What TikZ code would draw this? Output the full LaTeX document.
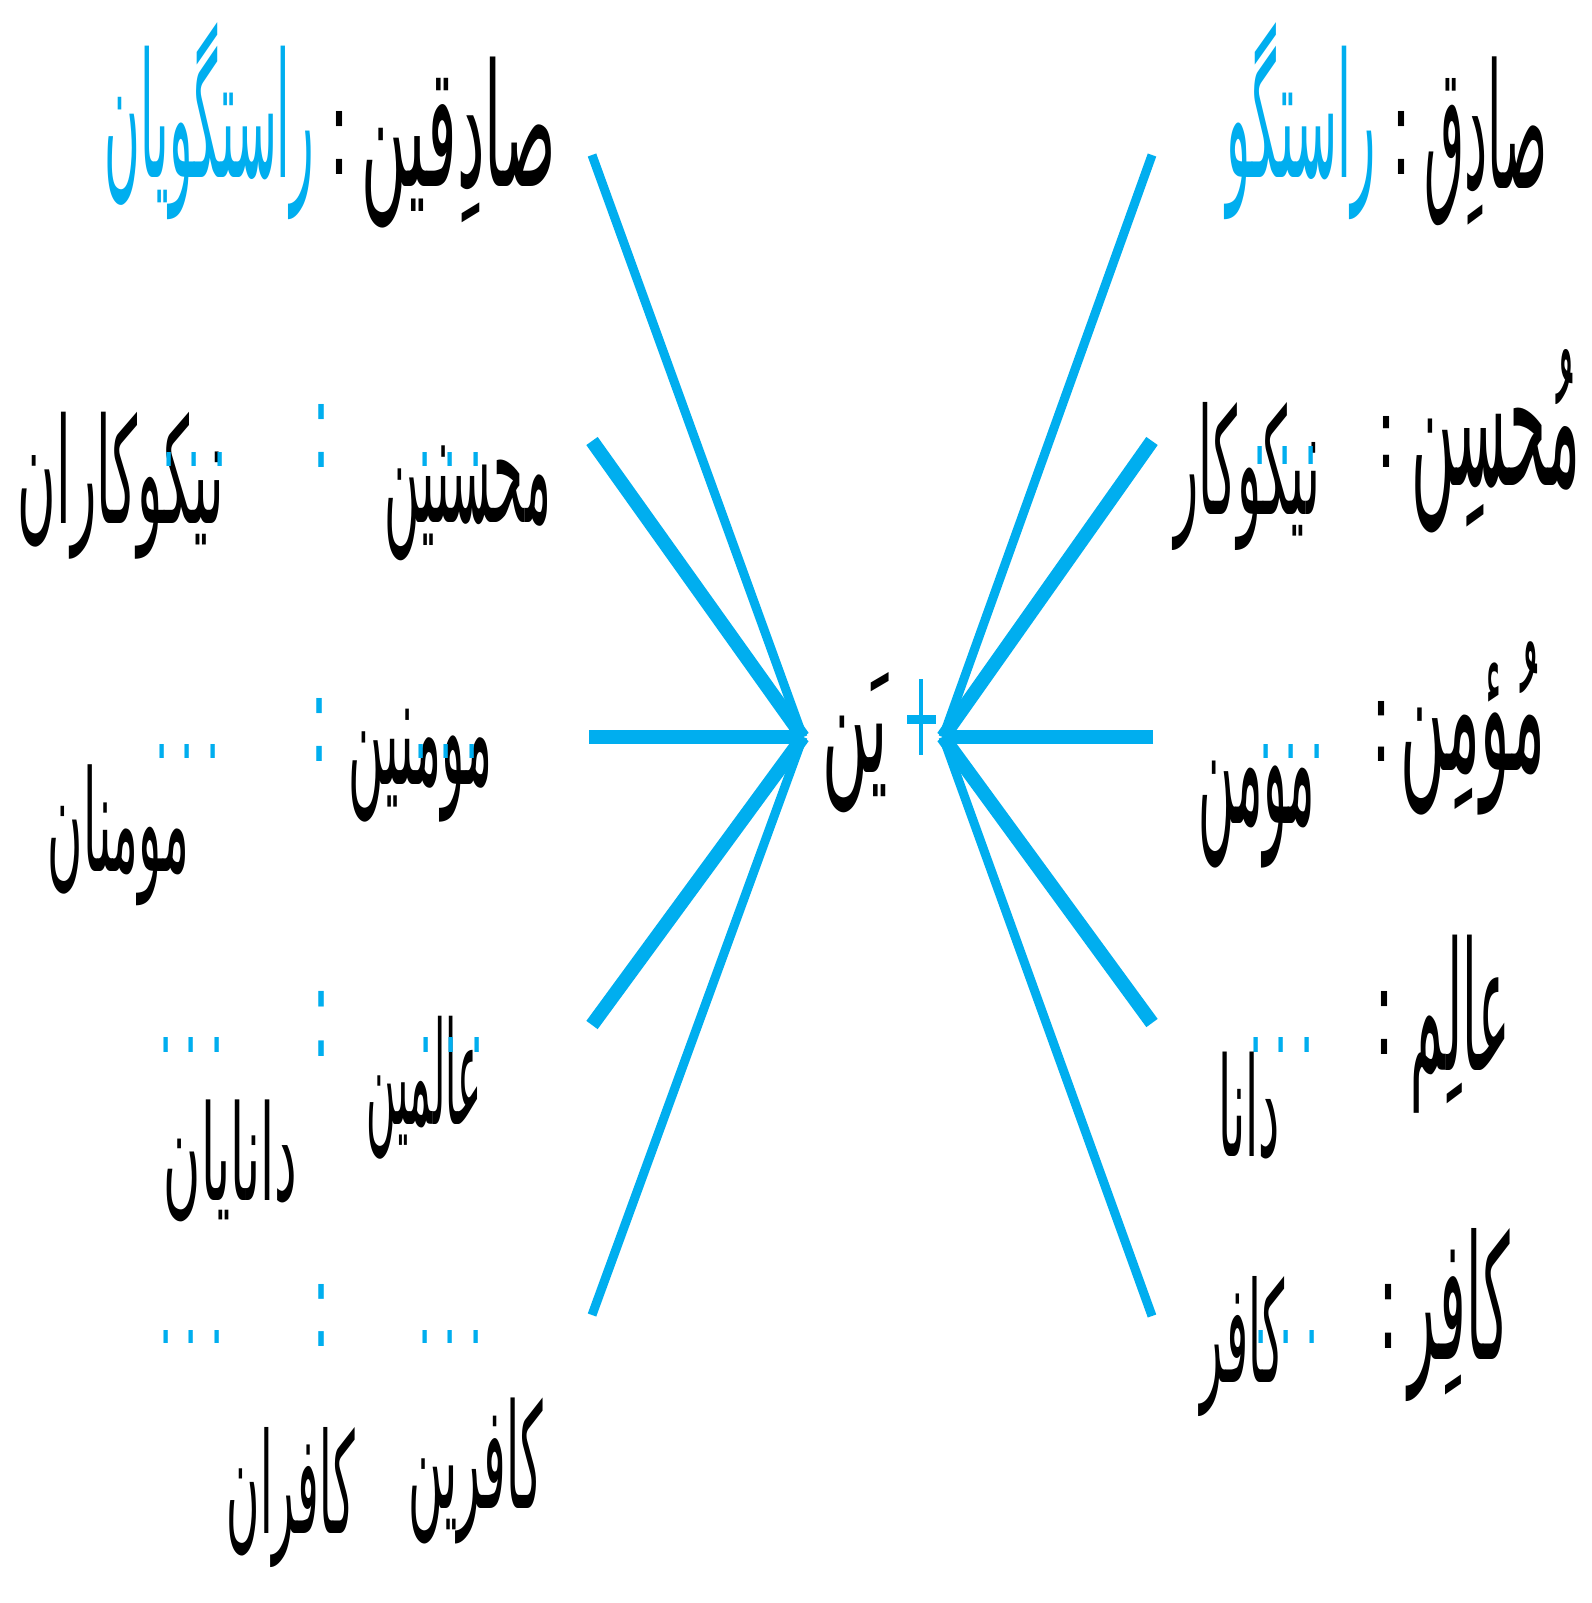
\documentclass[tikz,border=0pt]{standalone}
\usepackage{fontspec}
\usepackage{graphicx}
\newfontfamily\arabicfont[Script=Arabic]{DejaVu Sans}
\TeXXeTstate=1
\definecolor{cy}{HTML}{00AEEF}
% word scaled to an exact box: width, total height, text
\newcommand\fw[3]{\resizebox*{#1pt}{#2pt}{\arabicfont\beginR #3\endR}}
\newcommand\lw[3]{\resizebox*{#1pt}{#2pt}{\arabicfont #3}}
\newcommand\blankdots[1]{\lw{65}{#1}{.\kern.3em.\kern.3em.}}
\begin{document}
\begin{tikzpicture}[x=1pt,y=-1pt,
  word/.style={inner sep=0pt, outer sep=0pt, anchor=north east, text=black},
  blueword/.style={word, text=cy},
  colonnode/.style={inner sep=0pt, outer sep=0pt, anchor=north, text=black},
  bluecolon/.style={colonnode, text=cy},
  blanknode/.style={inner sep=0pt, outer sep=0pt, anchor=north west, text=cy},
  thinline/.style={draw=cy, line width=9pt},
  thickline/.style={draw=cy, line width=14pt},
  plusbar/.style={draw=cy}]
\useasboundingbox (0,0) rectangle (1592,1603);
\fill[white] (0,0) rectangle (1592,1603);

% hubs and line ends
\coordinate (lh) at (803,737);
\coordinate (rh) at (943,737);
\coordinate (l1) at (592,155);
\coordinate (l2) at (592,441);
\coordinate (l3) at (589,737);
\coordinate (l4) at (592,1025);
\coordinate (l5) at (592,1315);
\coordinate (r1) at (1152,155);
\coordinate (r2) at (1152,441);
\coordinate (r3) at (1153,737);
\coordinate (r4) at (1152,1023);
\coordinate (r5) at (1152,1316);

\draw[thinline] (l1) -- (lh);
\draw[thinline] (l5) -- (lh);
\draw[thickline] (l2) -- (lh);
\draw[thickline] (l3) -- (lh);
\draw[thickline] (l4) -- (lh);
\draw[thinline] (r1) -- (rh);
\draw[thinline] (r5) -- (rh);
\draw[thickline] (r2) -- (rh);
\draw[thickline] (r3) -- (rh);
\draw[thickline] (r4) -- (rh);

% centre
\node[word] (suf) at (888,672) {\fw{65}{141}{یَن}};
\coordinate (pt) at (921,679);
\coordinate (pb) at (921,755);
\coordinate (pl) at (907,719);
\coordinate (pr) at (936,719);
\draw[plusbar, line width=3.5pt] (pt) -- (pb);
\draw[plusbar, line width=9pt] (pl) -- (pr);

% right column
\node[word] (r1t) at (1547,57) {\fw{123}{169}{صادِق}};
\node[colonnode] (r1c) at (1401,111) {\lw{20}{63}{:}};
\node[blueword] (r1m) at (1376,23) {\fw{149}{197}{راستگو}};

\node[word] (r2t) at (1580,349) {\fw{169}{184}{مُحسِن}};
\node[colonnode] (r2c) at (1386,416) {\lw{20}{51}{:}};
\node[word] (r2m) at (1320,402) {\fw{146}{148}{نیکوکار}};
\node[blanknode] (r2d) at (1253,446) {\blankdots{18}};

\node[word] (r3t) at (1545,642) {\fw{144}{173}{مُؤمِن}};
\node[colonnode] (r3c) at (1381,701) {\lw{20}{60}{:}};
\node[blanknode] (r3d) at (1259,744) {\blankdots{14}};
\node[word] (r3m) at (1315,761) {\fw{116}{107}{مومن}};

\node[word] (r4t) at (1510,935) {\fw{99}{178}{عالِم}};
\node[colonnode] (r4c) at (1384,991) {\lw{20}{63}{:}};
\node[blanknode] (r4d) at (1249,1037) {\blankdots{15}};
\node[word] (r4m) at (1280,1052) {\fw{62}{107}{دانا}};

\node[word] (r5t) at (1510,1228) {\fw{101}{173}{کافِر}};
\node[colonnode] (r5c) at (1388,1284) {\lw{20}{64}{:}};
\node[blanknode] (r5d) at (1254,1330) {\blankdots{13}};
\node[word] (r5m) at (1285,1276) {\fw{84}{140}{کافر}};

% left column
\node[word] (l1t) at (556,57) {\fw{194}{171}{صادِقین}};
\node[colonnode] (l1c) at (339,111) {\lw{20}{63}{:}};
\node[blueword] (l1m) at (314,23) {\fw{209}{197}{راستگویان}};

\node[bluecolon] (l2c) at (321,404) {\lw{18}{63}{:}};
\node[word] (l2t) at (551,446) {\fw{166}{115}{محسنین}};
\node[word] (l2m) at (224,412) {\fw{206}{147}{نیکوکاران}};
\node[blanknode] (l2d1) at (418,452) {\blankdots{14}};
\node[blanknode] (l2d2) at (162,452) {\blankdots{14}};

\node[bluecolon] (l3c) at (319,698) {\lw{18}{63}{:}};
\node[word] (l3t) at (492,709) {\fw{143}{113}{مومنین}};
\node[word] (l3m) at (189,765) {\fw{141}{141}{مومنان}};
\node[blanknode] (l3d1) at (414,744) {\blankdots{14}};
\node[blanknode] (l3d2) at (155,744) {\blankdots{14}};

\node[bluecolon] (l4c) at (321,991) {\lw{18}{65}{:}};
\node[word] (l4t) at (482,1016) {\fw{115}{143}{عالمین}};
\node[word] (l4m) at (297,1100) {\fw{133}{122}{دانایان}};
\node[blanknode] (l4d1) at (419,1037) {\blankdots{15}};
\node[blanknode] (l4d2) at (159,1037) {\blankdots{15}};

\node[bluecolon] (l5c) at (321,1284) {\lw{18}{62}{:}};
\node[word] (l5t) at (543,1398) {\fw{135}{146}{کافرین}};
\node[word] (l5m) at (355,1427) {\fw{128}{140}{کافران}};
\node[blanknode] (l5d1) at (418,1330) {\blankdots{13}};
\node[blanknode] (l5d2) at (159,1330) {\blankdots{13}};
\end{tikzpicture}
\end{document}
